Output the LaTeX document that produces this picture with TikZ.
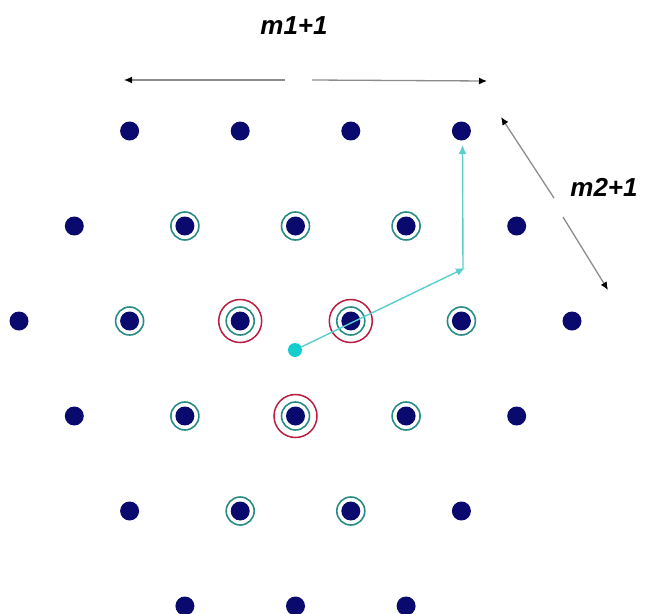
\documentclass[tikz,border=0pt]{standalone}
\usepackage{fontspec}
\setmainfont{Liberation Sans}
\usetikzlibrary{arrows.meta}
\definecolor{navy}{RGB}{10,10,110}
\definecolor{ringteal}{RGB}{40,140,130}
\definecolor{ringred}{RGB}{185,30,65}
\definecolor{cyandot}{RGB}{20,205,205}
\definecolor{cyanline}{RGB}{90,205,205}
\tikzset{
  dot/.style={circle,fill=navy,inner sep=0pt,minimum size=19pt},
  centerdot/.style={circle,fill=cyandot,inner sep=0pt,minimum size=14pt},
  tealring/.style={draw=ringteal,line width=1.6pt},
  redring/.style={draw=ringred,line width=1.5pt},
  vecarrow/.style={draw=cyanline,line width=1.4pt,-{Latex[length=9pt,width=8pt]},color=cyanline},
  dimarrow/.style={draw=black!45,line width=1.3pt,-{Latex[length=8pt,width=7pt,fill=black,color=black]}},
  lbl/.style={font=\fontsize{26}{26}\selectfont\bfseries\itshape}
}
\begin{document}
\begin{tikzpicture}[x=1pt,y=-1pt]
\useasboundingbox (0,0) rectangle (649,614);
\foreach \r/\cs in {0/{2,4,6,8},1/{1,3,5,7,9},2/{0,2,4,6,8,10},3/{1,3,5,7,9},4/{2,4,6,8},5/{3,5,7}}{
  \foreach \c in \cs {
    \node[dot] (d\r-\c) at ({19+55.3*\c},{131+95*\r}) {};
  }
}
\foreach \p in {1-3,1-5,1-7,2-2,2-4,2-6,2-8,3-3,3-5,3-7,4-4,4-6}{
  \draw[tealring] (d\p) circle[radius=14];
}
\foreach \p in {2-4,2-6,3-5}{
  \draw[redring] (d\p) circle[radius=21.5];
}
\node[centerdot] (ctr) at (295,350) {};
\coordinate (bend) at (465,268);
\coordinate (vtop) at (462.5,145);
\draw[vecarrow] (ctr) -- (bend);
\draw[vecarrow] ([xshift=-2pt]bend) -- (vtop);
% dimension arrows
\coordinate (a1s) at (285,80);
\coordinate (a1e) at (124,80);
\coordinate (a2s) at (312,80);
\coordinate (a2e) at (487,81);
\coordinate (b1s) at (554,198);
\coordinate (b1e) at (501,117);
\coordinate (b2s) at (563,217);
\coordinate (b2e) at (608,290);
\draw[dimarrow] (a1s) -- (a1e);
\draw[dimarrow] (a2s) -- (a2e);
\draw[dimarrow] (b1s) -- (b1e);
\draw[dimarrow] (b2s) -- (b2e);
\node[lbl] (m1) at (294,26) {m1+1};
\node[lbl] (m2) at (604,187) {m2+1};
\end{tikzpicture}
\end{document}
